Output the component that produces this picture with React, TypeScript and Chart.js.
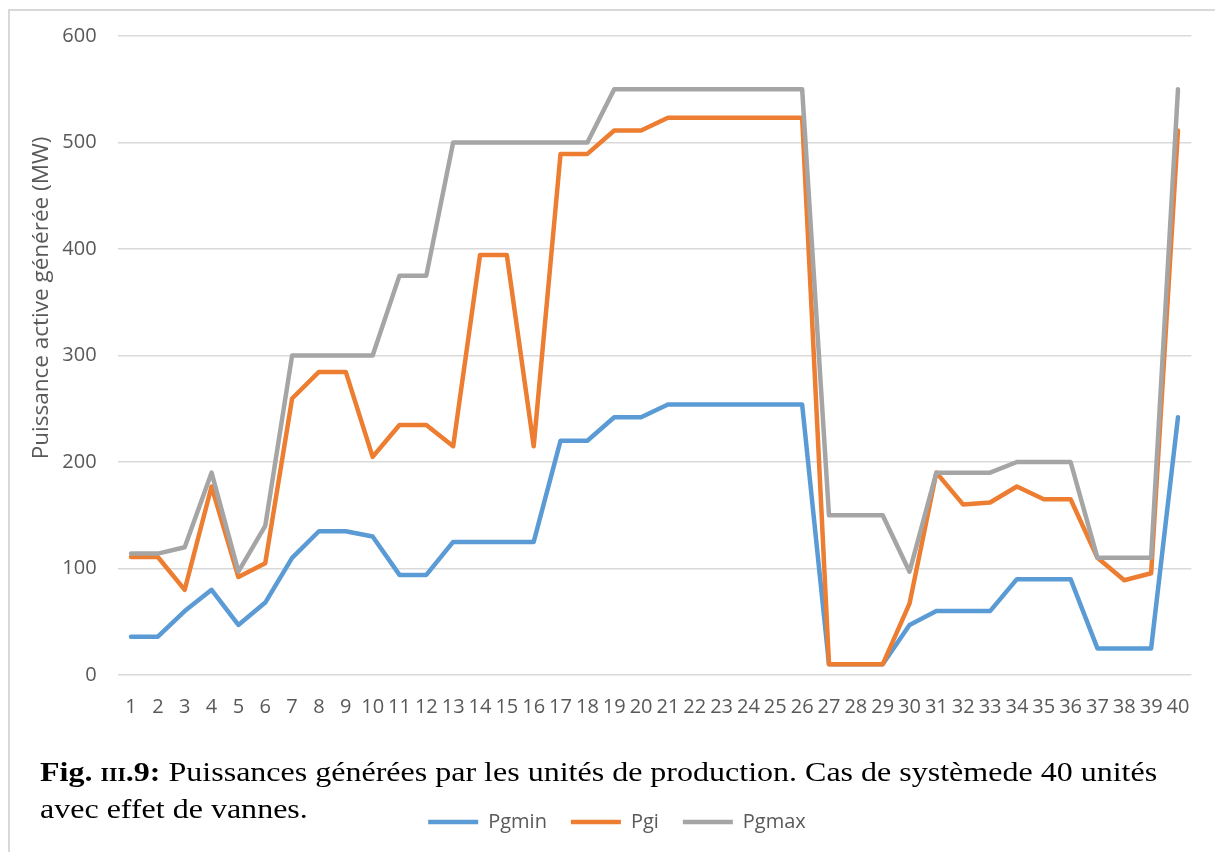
import React, { useEffect, useRef } from "react";
import { Chart, registerables } from "chart.js";

Chart.register(...registerables);

const units = [
  "1", "2", "3", "4", "5", "6", "7", "8", "9", "10",
  "11", "12", "13", "14", "15", "16", "17", "18", "19", "20",
  "21", "22", "23", "24", "25", "26", "27", "28", "29", "30",
  "31", "32", "33", "34", "35", "36", "37", "38", "39", "40",
];

const pgmin = [
  36, 36, 60, 80, 47, 68, 110, 135, 135, 130,
  94, 94, 125, 125, 125, 125, 220, 220, 242, 242,
  254, 254, 254, 254, 254, 254, 10, 10, 10, 47,
  60, 60, 60, 90, 90, 90, 25, 25, 25, 242,
];

const pgi = [
  110.8, 110.8, 80, 177, 92, 105, 259.6, 284.6, 284.6, 204.8,
  234.7, 234.7, 214.8, 394.3, 394.3, 214.8, 489.3, 489.3, 511.3, 511.3,
  523.3, 523.3, 523.3, 523.3, 523.3, 523.3, 10, 10, 10, 67,
  190, 160, 162, 177, 165, 165, 110, 89, 95.5, 511.3,
];

const pgmax = [
  114, 114, 120, 190, 97, 140, 300, 300, 300, 300,
  375, 375, 500, 500, 500, 500, 500, 500, 550, 550,
  550, 550, 550, 550, 550, 550, 150, 150, 150, 97,
  190, 190, 190, 200, 200, 200, 110, 110, 110, 550,
];

const seriesNames = ["Pgmin", "Pgi", "Pgmax"];
const seriesColors = ["#5B9BD5", "#ED7D31", "#A5A5A5"];
const yMin = 0;
const yMax = 600;
const yStep = 100;
const yTitle = "Puissance active générée (MW)";
const captionLabel = "Fig. ";
const captionNumeral = "III";
const captionNumber = ".9:";
const captionLine1 = " Puissances générées par les unités de production. Cas de systèmede 40 unités";
const captionLine2 = "avec effet de vannes.";

const FONT = "'Open Sans', 'Noto Sans', sans-serif";
const TEXT = "#595959";

const yTitlePlugin = {
  id: "yTitleManual",
  afterDraw(chart: any) {
    const ctx = chart.ctx;
    ctx.save();
    ctx.translate(32, 287);
    ctx.rotate(-Math.PI / 2);
    ctx.font = `22.5px ${FONT}`;
    ctx.fillStyle = TEXT;
    ctx.textAlign = "center";
    ctx.textBaseline = "middle";
    ctx.fillText(yTitle, 0, 0);
    ctx.restore();
  },
};

export default function App() {
  const canvasRef = useRef<HTMLCanvasElement | null>(null);

  useEffect(() => {
    if (!canvasRef.current) return;
    const series = [pgmin, pgi, pgmax];
    const chart = new Chart(canvasRef.current, {
      type: "line",
      data: {
        labels: units,
        datasets: series.map((d, i) => ({
          label: seriesNames[i],
          data: d,
          borderColor: seriesColors[i],
          backgroundColor: seriesColors[i],
          borderWidth: 4.5,
          borderJoinStyle: "round" as const,
          borderCapStyle: "round" as const,
          pointRadius: 0,
          pointHoverRadius: 0,
          tension: 0,
          fill: false,
          order: 3 - i,
        })),
      },
      options: {
        animation: false,
        responsive: false,
        maintainAspectRatio: false,
        events: [],
        layout: { padding: { left: 32.6, right: 23.6, top: 25, bottom: 10 } },
        plugins: {
          tooltip: { enabled: false },
          title: { display: false },
          legend: {
            display: true,
            position: "bottom",
            labels: {
              usePointStyle: true,
              pointStyle: "line",
              pointStyleWidth: 50,
              padding: 24,
              color: TEXT,
              font: { family: FONT, size: 20 },
              sort: (a: any, b: any) => a.datasetIndex - b.datasetIndex,
            },
          },
        },
        scales: {
          x: {
            offset: true,
            grid: { display: false, drawTicks: false },
            border: { display: false },
            ticks: {
              color: TEXT,
              font: { family: FONT, size: 20 },
              padding: 20,
              maxRotation: 0,
              minRotation: 0,
              autoSkip: false,
            },
            afterFit: (scale: any) => {
              scale.height = 113;
            },
          },
          y: {
            min: yMin,
            max: yMax,
            grid: { color: "#D9D9D9", lineWidth: 1.5, drawTicks: false },
            border: { display: false },
            ticks: {
              stepSize: yStep,
              color: TEXT,
              font: { family: FONT, size: 20 },
              padding: 21,
            },
            afterFit: (scale: any) => {
              scale.width = 75;
              scale.paddingTop = 0;
              scale.paddingBottom = 0;
            },
          },
        },
      },
      plugins: [yTitlePlugin],
    });
    return () => chart.destroy();
  }, []);

  return (
    <div
      style={{
        position: "absolute",
        left: 8,
        top: 9,
        width: 1207,
        height: 843,
        boxSizing: "border-box",
        borderLeft: "2px solid #D9D9D9",
        borderTop: "2px solid #D9D9D9",
        background: "#fff",
        overflow: "hidden",
      }}
    >
      <canvas ref={canvasRef} width={1205} height={841} style={{ display: "block" }} />
      <div
        style={{
          position: "absolute",
          left: 30,
          top: 744,
          fontFamily: "'Liberation Serif', 'Times New Roman', serif",
          fontSize: 26.5,
          lineHeight: "34px",
          color: "#000",
          whiteSpace: "nowrap",
          transform: "scaleX(1.208)",
          transformOrigin: "0 0",
        }}
      >
        <b>
          {captionLabel}
          <span style={{ fontSize: 18 }}>{captionNumeral}</span>
          {captionNumber}
        </b>
        {captionLine1}
        <br />
        {captionLine2}
      </div>
    </div>
  );
}
